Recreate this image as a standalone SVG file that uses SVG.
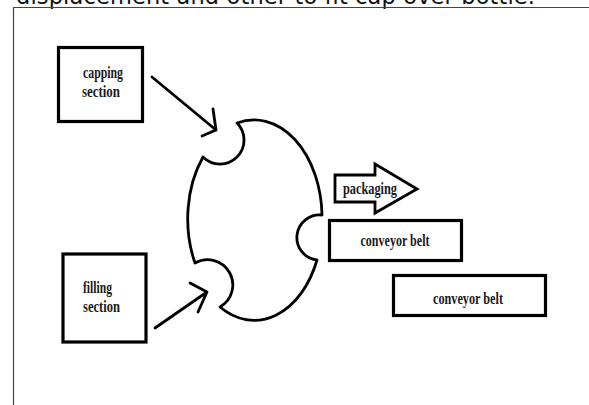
<svg xmlns="http://www.w3.org/2000/svg" width="589" height="405" viewBox="0 0 589 405">
<style>
.box{fill:#fff;stroke:#000;stroke-width:3.2}
.lbl{font-family:"Liberation Serif","Times New Roman",serif;font-weight:bold;font-size:17px;fill:#1a1a1a}
.ln{fill:none;stroke:#000;stroke-width:2.8;stroke-linecap:round;stroke-linejoin:round}
</style>
<rect width="589" height="405" fill="#fff"/>
<text x="16" y="4" font-family="'DejaVu Sans',sans-serif" font-size="22.5" fill="#111" textLength="519" lengthAdjust="spacing">displacement and other to fit cap over bottle.</text>
<path d="M13.5 405 V7.5 H589" fill="none" stroke="#444" stroke-width="1.2"/>
<g id="capping">
<rect class="box" x="58.5" y="47.5" width="84" height="74"/>
<text class="lbl" x="83" y="78" textLength="40" lengthAdjust="spacingAndGlyphs">capping</text>
<text class="lbl" x="82" y="97" textLength="38" lengthAdjust="spacingAndGlyphs">section</text>
</g>
<g id="filling">
<rect class="box" x="63" y="254" width="83" height="88"/>
<text class="lbl" x="83" y="293" textLength="29" lengthAdjust="spacingAndGlyphs">filling</text>
<text class="lbl" x="83" y="312" textLength="37" lengthAdjust="spacingAndGlyphs">section</text>
</g>
<g id="machine">
<path class="ln" d="M237 123 A68 98 0 0 1 322 215 A20 20 0 0 0 317 260 A68 98 0 0 1 220 307 A20 20 0 0 0 195 263 A68 98 0 0 1 203 157 A20 20 0 0 0 237 123 Z"/>
</g>
<g id="packaging">
<path fill="#fff" stroke="#000" stroke-width="2.8" stroke-linejoin="miter" d="M335 175 H375 V164 L417 189 L375 213 V202 H335 Z"/>
<text class="lbl" x="343" y="194" textLength="54" lengthAdjust="spacingAndGlyphs">packaging</text>
</g>
<g id="conveyor1">
<rect class="box" x="329.5" y="220.5" width="132" height="40"/>
<text class="lbl" x="395" y="246" text-anchor="middle" textLength="69" lengthAdjust="spacingAndGlyphs">conveyor belt</text>
</g>
<g id="conveyor2">
<rect class="box" x="393.5" y="275.5" width="152" height="40"/>
<text class="lbl" x="468" y="304" text-anchor="middle" textLength="70" lengthAdjust="spacingAndGlyphs">conveyor belt</text>
</g>
<g id="connectors">
<path class="ln" d="M152 77 L216 130 M202 136 L216 130 L213 109"/>
<path class="ln" d="M155 328 L207 292 M190 283 L207 292 L198 312"/>
</g>
</svg>
